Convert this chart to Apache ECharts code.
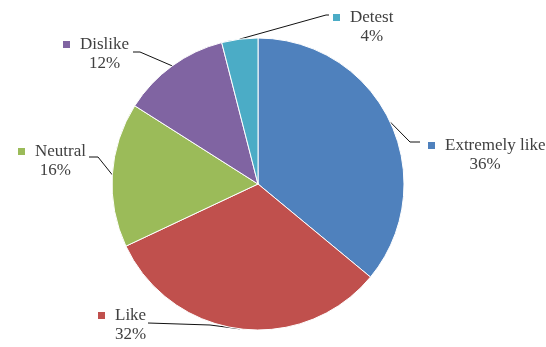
<!DOCTYPE html>
<html>
<head>
<meta charset="utf-8">
<script src="https://cdn.jsdelivr.net/npm/echarts@6/dist/echarts.min.js"></script>
<style>
  html, body { margin: 0; padding: 0; background: #ffffff; }
  #chart { width: 546px; height: 347px; }
</style>
</head>
<body>
<div id="chart"></div>
<script>
// Survey answers, in drawing order (clockwise from 12 o'clock)
const categories = ['Extremely like', 'Like', 'Neutral', 'Dislike', 'Detest'];
const shares = [36, 32, 16, 12, 4];
const pctLabels = ['36%', '32%', '16%', '12%', '4%'];
const sliceColors = ['#4F81BD', '#C0504D', '#9BBB59', '#8064A2', '#4BACC6'];

// Label block placement (top-left corner) and leader line bends
const labelAnchors = [
  [428, 136],
  [98, 306],
  [18, 142],
  [63, 35],
  [333, 8]
];
const leaderBends = [
  [[410, 142], [420, 142]],
  [[210, 325], [148, 323]],
  [[98, 157], [89, 157]],
  [[140, 52], [133, 52]],
  [[326, 15], [329, 15]]
];

const rich = {
  n: { fontFamily: 'Liberation Serif', fontSize: 17, color: '#404040', padding: [0, 0, 0, 10], lineHeight: 19 },
  p: { fontFamily: 'Liberation Serif', fontSize: 17, color: '#404040', padding: [0, 0, 0, 17], align: 'center', lineHeight: 19 }
};
sliceColors.forEach(function (c, i) {
  rich['m' + i] = { width: 7, height: 7, backgroundColor: c };
});

const chart = echarts.init(document.getElementById('chart'), null, { renderer: 'canvas' });
chart.setOption({
  backgroundColor: '#ffffff',
  animation: false,
  series: [{
    type: 'pie',
    center: [258, 184],
    radius: 146,
    startAngle: 90,
    clockwise: true,
    data: categories.map(function (name, i) {
      return { name: name, value: shares[i], itemStyle: { color: sliceColors[i] } };
    }),
    itemStyle: { borderColor: '#ffffff', borderWidth: 1 },
    label: {
      show: true,
      position: 'outer',
      overflow: 'none',
      formatter: function (p) {
        return '{m' + p.dataIndex + '|}{n|' + p.name + '}\n{p|' + pctLabels[p.dataIndex] + '}';
      },
      rich: rich
    },
    labelLine: {
      show: true,
      lineStyle: { color: '#111111', width: 1 }
    },
    emphasis: { disabled: true },
    labelLayout: function (params) {
      const i = params.dataIndex;
      const a = labelAnchors[i];
      const start = (params.labelLinePoints && params.labelLinePoints[0]) || null;
      const out = { x: a[0], y: a[1], align: 'left', verticalAlign: 'top' };
      if (start) {
        out.labelLinePoints = [start].concat(leaderBends[i]);
      }
      return out;
    }
  }]
});
</script>
</body>
</html>
